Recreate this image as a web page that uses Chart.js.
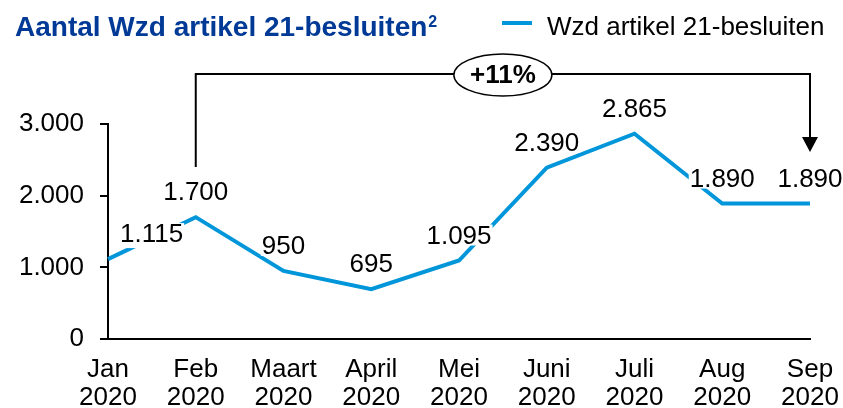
<!DOCTYPE html>
<html>
<head>
<meta charset="utf-8">
<script src="https://cdn.jsdelivr.net/npm/chart.js@4"></script>
<style>
  body { margin: 0; background: #fff; }
</style>
</head>
<body>
<canvas id="chart" width="843" height="408"></canvas>
<script>
const months = ["Jan", "Feb", "Maart", "April", "Mei", "Juni", "Juli", "Aug", "Sep"];
const year = "2020";
const besluiten = [1115, 1700, 950, 695, 1095, 2390, 2865, 1890, 1890];
const yTicks = [0, 1000, 2000, 3000];
const titleText = "Aantal Wzd artikel 21-besluiten";
const titleSup = "2";
const seriesName = "Wzd artikel 21-besluiten";
const growthFrom = 1, growthTo = 8, growthText = "+11%";

const FONT = "Arial, 'Liberation Sans', sans-serif";
const BLUE = "#0096D9";
const NAVY = "#003A96";

// dutch thousands separator
function nl(v) { return String(v).replace(/\B(?=(\d{3})+(?!\d))/g, "."); }

// ===== TITLE, LEGEND, LABELS, BRACKET =====
const extras = {
    id: "extras",
    afterDatasetsDraw(chart) {
        const ctx = chart.ctx, x = chart.scales.x;
        const area = chart.chartArea;
        ctx.save();

        // title + superscript
        ctx.fillStyle = NAVY;
        ctx.textAlign = "left";
        ctx.textBaseline = "alphabetic";
        ctx.font = "bold 28px " + FONT;
        ctx.fillText(titleText, 15, 36);
        const tw = ctx.measureText(titleText).width;
        ctx.font = "bold 16px " + FONT;
        ctx.fillText(titleSup, 15 + tw + 1, 27);

        // legend
        ctx.strokeStyle = BLUE; ctx.lineWidth = 4;
        ctx.beginPath(); ctx.moveTo(502, 23); ctx.lineTo(532, 23); ctx.stroke();
        ctx.fillStyle = "#000";
        ctx.font = "26px " + FONT;
        ctx.fillText(seriesName, 547, 35);

        // data labels on white boxes
        const meta = chart.getDatasetMeta(0);
        ctx.font = "26px " + FONT;
        ctx.textBaseline = "middle";
        meta.data.forEach((pt, i) => {
            const txt = nl(besluiten[i]);
            const w = ctx.measureText(txt).width;
            let cx = pt.x;
            let below = 10;
            if (i === 0) { cx = pt.x + 12 + w / 2; below = 14; } // first label sits right of the axis
            const cy = pt.y - 25;
            ctx.fillStyle = "#fff";
            ctx.fillRect(cx - w / 2 - 1, cy - 11, w + 2, 11 + below);
            ctx.fillStyle = "#000";
            ctx.textAlign = "center";
            ctx.fillText(txt, cx, cy + 1);
        });

        // growth bracket
        const x1 = x.getPixelForValue(growthFrom), x2 = x.getPixelForValue(growthTo);
        const top = area.top - 50;
        const tip = area.top + 28;
        ctx.strokeStyle = "#000"; ctx.lineWidth = 2;
        ctx.beginPath();
        ctx.moveTo(x1, area.top + 43);
        ctx.lineTo(x1, top);
        ctx.lineTo(x2, top);
        ctx.lineTo(x2, tip - 14);
        ctx.stroke();
        ctx.fillStyle = "#000";
        ctx.beginPath();
        ctx.moveTo(x2 - 8, tip - 15);
        ctx.lineTo(x2 + 8, tip - 15);
        ctx.lineTo(x2, tip);
        ctx.closePath(); ctx.fill();

        const mx = (x1 + x2) / 2;
        ctx.beginPath();
        ctx.ellipse(mx, top + 1, 49, 21, 0, 0, Math.PI * 2);
        ctx.fillStyle = "#fff"; ctx.fill();
        ctx.lineWidth = 1.5; ctx.stroke();
        ctx.fillStyle = "#000";
        ctx.font = "bold 26px " + FONT;
        ctx.textAlign = "center";
        ctx.textBaseline = "middle";
        ctx.fillText(growthText, mx, top + 2);

        ctx.restore();
    }
};

new Chart(document.getElementById("chart").getContext("2d"), {
    type: "line",
    data: {
        labels: months.map(m => [m, year]),
        datasets: [{
            label: seriesName,
            data: besluiten,
            borderColor: BLUE,
            borderWidth: 4,
            borderJoinStyle: "miter",
            pointRadius: 0,
            tension: 0,
            fill: false
        }]
    },
    options: {
        responsive: false,
        animation: false,
        layout: { padding: { top: 124, right: 33, left: 0, bottom: 0 } },
        plugins: { legend: { display: false }, title: { display: false }, tooltip: { enabled: false } },
        scales: {
            x: {
                offset: false,
                grid: { display: false, drawTicks: false },
                border: { display: true, color: "#000", width: 2 },
                ticks: { color: "#000", font: { family: FONT, size: 26, lineHeight: 1.08 }, padding: 17, maxRotation: 0, autoSkip: false },
                afterFit(s) { s.height = 69; s.paddingLeft = 0; s.paddingRight = 0; }
            },
            y: {
                min: 0, max: 3000,
                afterBuildTicks(s) { s.ticks = yTicks.map(v => ({ value: v })); },
                grid: { display: true, drawOnChartArea: false, drawTicks: true, tickLength: 8, color: "#000", lineWidth: 2 },
                border: { display: true, color: "#000", width: 2 },
                ticks: { color: "#000", font: { family: FONT, size: 26 }, padding: 16, callback: v => nl(v) },
                afterFit(s) { s.width = 108; }
            }
        }
    },
    plugins: [extras]
});
</script>
</body>
</html>
